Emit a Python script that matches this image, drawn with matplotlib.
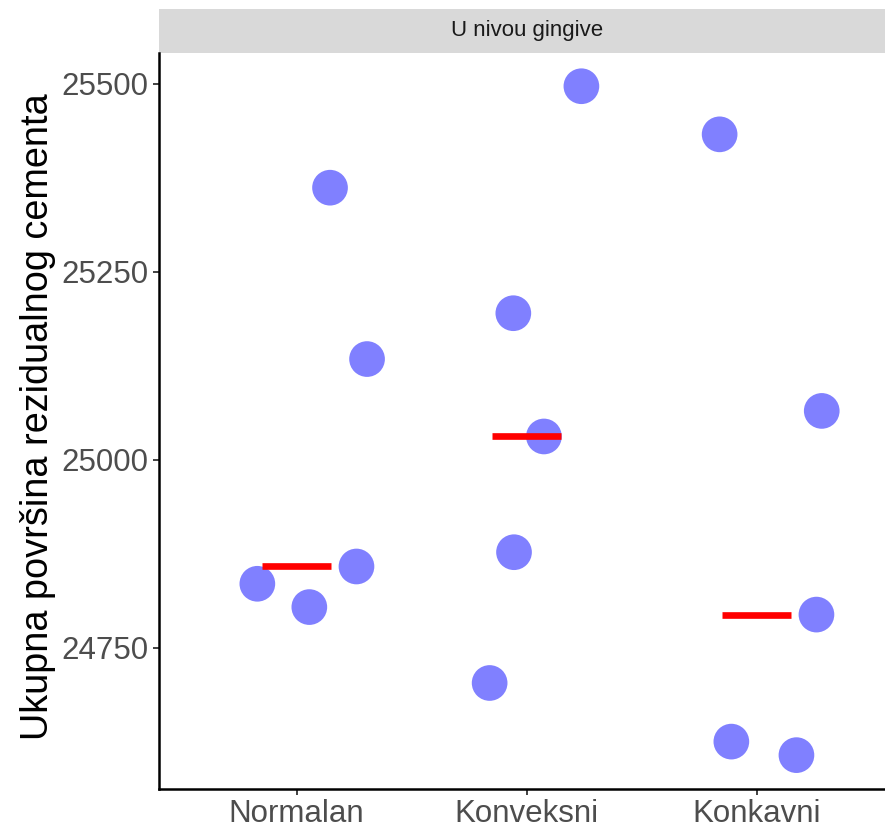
import numpy as np
import matplotlib
matplotlib.use("Agg")
import matplotlib.pyplot as plt
from matplotlib.patches import Rectangle

plt.rcParams['font.family'] = ['Liberation Sans', 'DejaVu Sans']

categories = ["Normalan", "Konveksni", "Konkavni"]
values = [
    [25362, 25134, 24858, 24835, 24804],
    [25497, 25195, 25031, 24877, 24703],
    [25433, 25065, 24794, 24625, 24607],
]
# horizontal jitter of each point (in category units)
jitter = [
    [0.145, 0.306, 0.26, -0.171, 0.055],
    [0.238, -0.058, 0.075, -0.055, -0.161],
    [-0.161, 0.283, 0.26, -0.11, 0.173],
]
panel_title = "U nivou gingive"
y_label = "Ukupna površina rezidualnog cementa"
y_ticks = [24750, 25000, 25250, 25500]

fig = plt.figure(figsize=(8.85, 8.3), dpi=100)
ax = fig.add_axes([0.1793, 0.0499, 0.8316, 0.8865])

for i, (vals, jit) in enumerate(zip(values, jitter)):
    pos = i + 1
    xs = [pos + j for j in jit]
    ax.scatter(xs, vals, s=660, color="#8080FF", edgecolors="none", zorder=2)
    med = np.median(vals)
    ax.plot([pos - 0.15, pos + 0.15], [med, med], color="red", lw=4.8,
            solid_capstyle="butt", zorder=3)

all_vals = np.concatenate(values)
lo, hi = all_vals.min(), all_vals.max()
pad = (hi - lo) * 0.05
ax.set_ylim(lo - pad, hi + pad)
ax.set_xlim(0.4, 3.6)

ax.set_xticks([1, 2, 3])
ax.set_xticklabels(categories)
ax.set_yticks(y_ticks)
ax.tick_params(axis="both", labelsize=22.5, labelcolor="#4D4D4D", color="#333333",
               length=4, width=1.3, pad=3.5)

for side in ["top", "right"]:
    ax.spines[side].set_visible(False)
for side in ["left", "bottom"]:
    ax.spines[side].set_linewidth(1.8)
    ax.spines[side].set_color("black")

# facet strip
strip_h = 44 / (0.8865 * 830)
ax.add_patch(Rectangle((0, 1), 1.02, strip_h, transform=ax.transAxes,
                       facecolor="#D9D9D9", edgecolor="none", clip_on=False))
ax.text(0.5, 1 + strip_h / 2, panel_title, transform=ax.transAxes,
        ha="center", va="center", fontsize=16, color="#1A1A1A")

fig.text(38 / 885, 0.4976, y_label, rotation=90, ha="center", va="center",
         fontsize=27.3, color="black")

fig.savefig("out.png", dpi=100)
